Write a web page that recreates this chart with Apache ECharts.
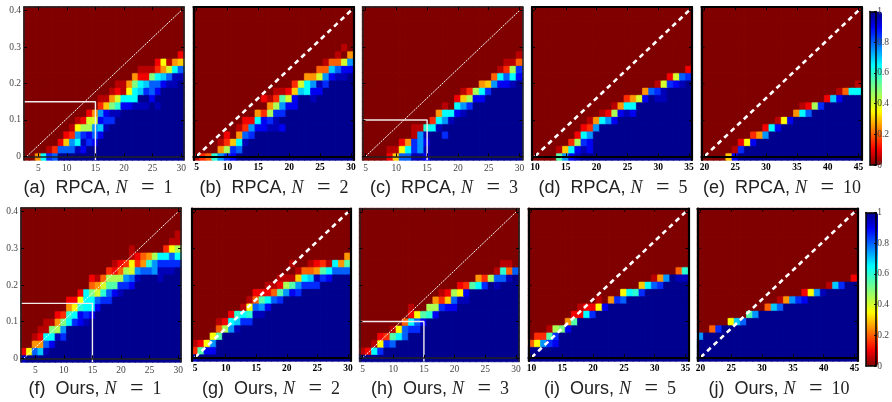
<!DOCTYPE html>
<html><head><meta charset="utf-8">
<style>html,body{margin:0;padding:0;background:#fff}#c{width:892px;height:402px;filter:blur(0.3px)}</style>
<script src="https://cdn.jsdelivr.net/npm/echarts@6/dist/echarts.min.js"></script>
</head><body><div id="c"></div>
<script>
// Each row, from y=0 upward: "z:cells" = z cells of level 0, then the listed levels, then level 1 to the right edge.
// Level alphabet: 0..9,a..k stand for 0, .05, .10 ... 1.00. Rows not listed are all 0.
const rpcaN1 = ["2:5dhg","4:13gggji","6:26fdjhi","7:23fhigi","8:1799fej","9:1288ihh","11:25fijj","13:36aciijjjkj","13:1158dddkki","15:1217dehgi","16:115adeggijjk","19:522adegjj","20:111358dg","23:27156","27:2"];
const rpcaN2 = ["0:134cfhi","4:59hg","4:136dj","5:205gh","7:13fiijji","8:22dihj","10:539hh","12:59fii","11:213b8ikkj","13:1126edii","16:38dfjh","18:558fijjk","20:44egii","21:1448f","23:105","24:10"];
const rpcaN3 = ["4:26ggjji","4:117dhfj","6:25hfi","8:1fjkkh","8:11cdj","11:3dfj","12:5ddij","13:10dfh","15:269ii","16:139dh","19:56fiij","21:4dgdi","22:139h","23:114","25:1"];
const rpcaN5 = ["4:bfij","4:16diji","6:39hi","7:2df","8:23f","9:15dfi","11:129iji","13:15dd","15:358ikjj","18:5ghj","20:18hijk","22:28gh","25:2"];
const rpcaN10 = ["4:6i","5:1h","6:27i","8:35f","10:2di","12:17i","15:5dg","16:129h","20:2ei","22:14dd","25:1"];
const oursN1 = ["0:j","0:27gej","2:55gi","2:12ddjh","3:11a9f","4:115adhij","6:23cdihi","8:57cddi","8:227ddghh","10:2da8cgij","12:458bbhhi","12:214999fgjkkkj","15:32498fggfjjjk","16:123735cfhhhh","19:12459ddgd","19:100000379","26:11","27:1"];
const oursN2 = ["0:j","0:3bii","0:127f","3:7b","4:49fj","4:12dehh","6:2cdcjj","8:17gfi","9:14bdgh","10:2224bfih","12:1129bfhhh","14:1116dejhi","17:1445bdggg","16:1001231d5b","25:5"];
const oursN3 = ["0:","0:12dh","2:17hg","3:23bdg","5:17ghh","7:4dgi","8:27bci","8:10099hii","12:536gjj","13:1297i","16:23bdhkj","19:539ggjk","22:1c4g","23:110"];
const oursN5 = ["0:","0:","0:47fhi","1:33bh","3:19ai","6:5b","7:22dh","8:1227i","11:105hg","15:7dch","18:6dgh","20:15fkjj","24:4c"];
const oursN10 = ["0:","0:","0:","0:f","2:4h","5:7eg","8:bf","11:4eg","13:15fhi","17:27fj","21:1ehkk","25:2"];

const yLevels = ["0","0.02","0.04","0.06","0.08","0.1","0.12","0.14","0.16","0.18","0.2","0.22","0.24","0.26","0.28","0.3","0.32","0.34","0.36","0.38","0.4"];
const yTickValues = [0,0.1,0.2,0.3,0.4];
const captions = ["(a)  RPCA, ","(b)  RPCA, ","(c)  RPCA, ","(d)  RPCA, ","(e)  RPCA, ","(f)  Ours, ","(g)  Ours, ","(h)  Ours, ","(i)  Ours, ","(j)  Ours, "];
const captionN = ["1","2","3","5","10","1","2","3","5","10"];
const panelRows = [rpcaN1,rpcaN2,rpcaN3,rpcaN5,rpcaN10,oursN1,oursN2,oursN3,oursN5,oursN10];
const xStarts = [3,5,5,10,20,3,5,5,10,20];
const xEnds = [30,30,30,35,45,30,30,30,35,45];
const guideY = [0.15,null,0.1,null,null,0.15,null,0.1,null,null];

// layout
const boxes = [[24,7,160,153],[193.5,7,160.5,153],[362.5,7,160,153],[532,7,160,153],[701.5,7,160,153],
               [21,208,160,154],[192,208.5,159,152.5],[359.5,208.5,159.5,153],[528.5,208.5,160,152.5],[697.5,208.5,160,152.5]];
const captionX = [93,269,439,608,777,90,266,435,605,774];
const plainStyle = [true,false,true,false,false,true,false,true,false,false];
const jet = ['#800000','#b90000','#f30000','#ff2b00','#ff6000','#ff9500','#ffca00','#ffff00','#d4ff2b','#aaff55','#80ff80','#55ffaa','#2bffd4','#00ffff','#00caff','#0095ff','#0060ff','#002bff','#0000f3','#0000b9','#00008f'];
const alpha = '0123456789abcdefghijk';

function cell(x,y,level){
  return {value:[x,y,level/20],itemStyle:{borderColor:jet[level],borderWidth:0.7}};
}
function expand(rows, nCols){
  const out=[];
  rows.forEach((r,y)=>{
    const [z,cells]=r.split(':');
    let line='0'.repeat(+z)+cells;
    line=line.padEnd(nCols,'k');
    for(let x=0;x<nCols;x++) out.push(cell(x,y,alpha.indexOf(line[x])));
  });
  for(let y=rows.length;y<yLevels.length;y++) for(let x=0;x<nCols;x++) out.push(cell(x,y,0));
  return out;
}

const grid=[],xAxis=[],yAxis=[],series=[],title=[];
panelRows.forEach((rows,i)=>{
  const [l,t,w,h]=boxes[i], xs=xStarts[i], xe=xEnds[i], plain=plainStyle[i];
  const cats=[]; for(let v=xs;v<=xe;v++) cats.push(String(v));
  const tickVals=cats.map(Number).filter(v=>v%5===0);
  const labelStyle={fontFamily:'"Liberation Serif"',fontSize:9.5,color:plain?'#444':'#000',fontWeight:plain?'normal':'bold'};
  const frameW=plain?1.5:2.2, frame={show:true,lineStyle:{color:plain?'#222':'#000',width:frameW}};
  grid.push({left:l,top:t,width:w,height:h,z:1});
  const every5=(idx,v)=>(+v)%5===0;
  const tick={show:true,inside:true,length:3,lineStyle:{color:'#000'}};
  xAxis.push({type:'category',gridIndex:i,data:cats,position:'bottom',z:8,
    axisLine:frame,axisTick:{...tick,alignWithLabel:true,interval:every5},
    axisLabel:{show:true,interval:every5,margin:3,...labelStyle},splitLine:{show:false}});
  xAxis.push({type:'value',gridIndex:i,min:xs-0.5,max:xe+0.5,position:'top',z:8,
    axisLine:{...frame,onZero:false},axisTick:{...tick,customValues:tickVals},axisLabel:{show:false},splitLine:{show:false}});
  const yShow=(i===0||i===5);
  yAxis.push({type:'category',gridIndex:i,data:yLevels,position:'left',z:8,
    axisLine:frame,axisTick:{...tick,alignWithLabel:true,interval:(idx)=>idx%5===0},
    axisLabel:{show:yShow,interval:(idx)=>idx%5===0,margin:3,...labelStyle},splitLine:{show:false}});
  yAxis.push({type:'value',gridIndex:i,min:-0.01,max:0.41,position:'right',z:8,
    axisLine:{...frame,onZero:false},axisTick:{...tick,customValues:yTickValues},axisLabel:{show:false},splitLine:{show:false}});
  series.push({type:'heatmap',xAxisIndex:2*i,yAxisIndex:2*i,data:expand(rows,cats.length),silent:true,progressive:0,emphasis:{disabled:true}});
  const rs={fontWeight:'normal',color:'#222'};
  title.push({left:captionX[i],top:i<5?171:372,textAlign:'center',
    text:'{s|'+captions[i]+'}{n|N}{m|   }{e|=}{m|  '+captionN[i]+'}',
    textStyle:{fontWeight:'normal',rich:{
      s:{fontFamily:'"Liberation Sans"',fontSize:18,...rs},
      n:{fontFamily:'"Liberation Serif"',fontStyle:'italic',fontSize:18,...rs},
      e:{fontFamily:'"Liberation Serif"',fontSize:24,...rs},
      m:{fontFamily:'"Liberation Serif"',fontSize:18,...rs}}}});
});
// overlay lines, drawn on the value axes of each grid
panelRows.forEach((rows,i)=>{
  const plain=plainStyle[i];
  series.push({type:'line',xAxisIndex:2*i+1,yAxisIndex:2*i+1,silent:true,showSymbol:false,z:5,
    data:[[xStarts[i],0],[xEnds[i],0.4]],
    lineStyle:{color:'#fff',width:plain?1:2.6,type:plain?[2,1]:[5,4]}});
  if(guideY[i]!==null){
    series.push({type:'line',xAxisIndex:2*i+1,yAxisIndex:2*i+1,silent:true,showSymbol:false,z:5,
      data:[[xStarts[i]-0.5,guideY[i]],[15,guideY[i]],[15,-0.01]],
      lineStyle:{color:'#f2ecec',width:1.4}});
  }
});
// colorbars
const bars=[[870,11.5,12,153.5],[866,212.5,12,153.5]];
const vm=bars.map((b,k)=>({type:'continuous',min:0,max:1,left:b[0],top:b[1],itemWidth:b[2],itemHeight:b[3],
  padding:0,calculable:false,hoverLink:false,seriesIndex:k===0?[0,1,2,3,4]:[5,6,7,8,9],inRange:{color:jet},text:null,showLabel:false}));
bars.forEach((b,k)=>{
  const gi=panelRows.length+k;
  const bl={show:true,onZero:false,lineStyle:{color:'#000',width:1.5}};
  grid.push({left:b[0],top:b[1],width:b[2],height:b[3],z:10});
  xAxis.push({type:'value',gridIndex:gi,min:0,max:1,position:'top',z:10,axisLine:bl,axisTick:{show:false},axisLabel:{show:false},splitLine:{show:false}});
  xAxis.push({type:'value',gridIndex:gi,min:0,max:1,position:'bottom',z:10,axisLine:bl,axisTick:{show:false},axisLabel:{show:false},splitLine:{show:false}});
  yAxis.push({type:'value',gridIndex:gi,min:0,max:1,interval:0.2,position:'right',z:10,
    axisLine:bl,axisTick:{show:true,inside:true,length:2,lineStyle:{color:'#000'}},
    axisLabel:{show:true,margin:1,fontFamily:'"Liberation Serif"',fontSize:9.5,color:'#444',formatter:v=>String(+v.toFixed(1))},splitLine:{show:false}});
  yAxis.push({type:'value',gridIndex:gi,min:0,max:1,position:'left',z:10,axisLine:bl,axisTick:{show:false},axisLabel:{show:false},splitLine:{show:false}});
});
const chart=echarts.init(document.getElementById('c'),null,{renderer:'canvas',width:892,height:402});
chart.setOption({animation:false,backgroundColor:'#fff',tooltip:{show:false},grid,xAxis,yAxis,series,title,visualMap:vm});
</script></body></html>
